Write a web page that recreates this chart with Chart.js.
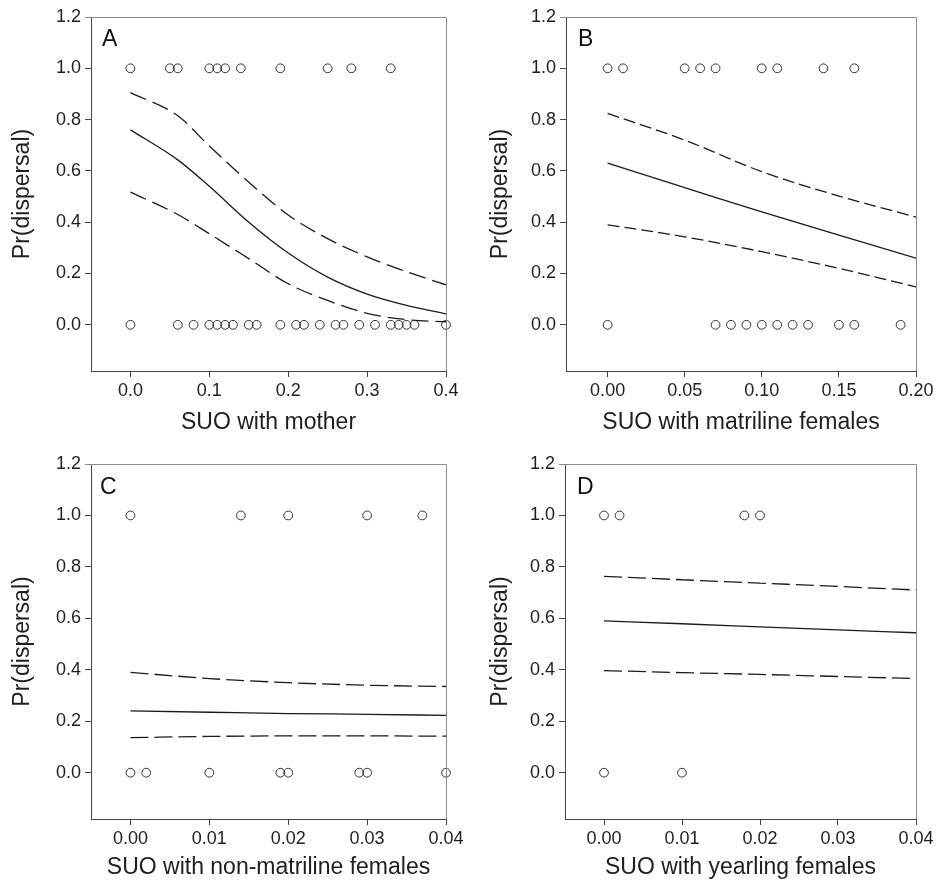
<!DOCTYPE html>
<html><head><meta charset="utf-8">
<script src="https://cdn.jsdelivr.net/npm/chart.js@4.4.1/dist/chart.umd.min.js"></script>
<style>
html,body{margin:0;padding:0;background:#fff;}
body{width:937px;height:881px;position:relative;overflow:hidden;}
canvas{position:absolute;display:block;}
</style></head><body>
<canvas id="cA" width="468" height="440" style="left:0;top:0"></canvas>
<canvas id="cB" width="467" height="440" style="left:470px;top:0"></canvas>
<canvas id="cC" width="468" height="441" style="left:0;top:440px"></canvas>
<canvas id="cD" width="467" height="441" style="left:470px;top:440px"></canvas>
<script>
// ---------- DATA ----------
const yTickValues = [0, 0.2, 0.4, 0.6, 0.8, 1.0, 1.2];

// Panel A: SUO with mother
const aTicks = [0, 0.1, 0.2, 0.3, 0.4];
const aDispersed = [0, 0.05, 0.06, 0.10, 0.11, 0.12, 0.14, 0.19, 0.25, 0.28, 0.33];
const aStayed = [0, 0.06, 0.08, 0.10, 0.11, 0.12, 0.13, 0.15, 0.16, 0.19, 0.21, 0.22, 0.24, 0.26, 0.27, 0.29, 0.31, 0.33, 0.34, 0.35, 0.36, 0.40];
const aFitX = [0, 0.06, 0.10, 0.15, 0.20, 0.25, 0.30, 0.35, 0.40];
const aFit = [0.76, 0.643, 0.54, 0.40, 0.28, 0.186, 0.12, 0.076, 0.043];
const aUpper = [0.905, 0.815, 0.697, 0.556, 0.428, 0.336, 0.265, 0.207, 0.156];
const aLower = [0.517, 0.43, 0.355, 0.258, 0.16, 0.095, 0.045, 0.02, 0.012];

// Panel B: SUO with matriline females
const bTicks = [0, 0.05, 0.10, 0.15, 0.20];
const bDispersed = [0, 0.01, 0.05, 0.06, 0.07, 0.10, 0.11, 0.14, 0.16];
const bStayed = [0, 0.07, 0.08, 0.09, 0.10, 0.11, 0.12, 0.13, 0.15, 0.16, 0.19];
const bFitX = [0, 0.05, 0.10, 0.15, 0.20];
const bFit = [0.63, 0.535, 0.44, 0.35, 0.26];
const bUpper = [0.824, 0.72, 0.597, 0.502, 0.42];
const bLower = [0.39, 0.343, 0.285, 0.22, 0.148];

// Panel C: SUO with non-matriline females
const cTicks = [0, 0.01, 0.02, 0.03, 0.04];
const cDispersed = [0, 0.014, 0.020, 0.030, 0.037];
const cStayed = [0, 0.002, 0.010, 0.019, 0.020, 0.029, 0.030, 0.040];
const cFitX = [0, 0.01, 0.02, 0.03, 0.04];
const cFit = [0.24, 0.235, 0.23, 0.227, 0.223];
const cUpper = [0.39, 0.366, 0.35, 0.34, 0.335];
const cLower = [0.136, 0.141, 0.143, 0.143, 0.142];

// Panel D: SUO with yearling females
const dTicks = [0, 0.01, 0.02, 0.03, 0.04];
const dDispersed = [0, 0.002, 0.018, 0.020];
const dStayed = [0, 0.010];
const dFitX = [0, 0.01, 0.02, 0.03, 0.04];
const dFit = [0.59, 0.579, 0.567, 0.555, 0.544];
const dUpper = [0.763, 0.75, 0.737, 0.724, 0.71];
const dLower = [0.397, 0.389, 0.382, 0.374, 0.366];

// ---------- RENDERING ----------
const FONT = '"Liberation Sans", Arial, Helvetica, sans-serif';
const TXT = '#1e1e1e';
const AX = '#444';

const framePlugin = {
  id: 'frame',
  afterDraw(chart, args, opts) {
    const {ctx, chartArea: {left, right, top, bottom}} = chart;
    ctx.save();
    ctx.strokeStyle = '#8c8c8c';
    ctx.lineWidth = 1;
    ctx.beginPath();
    ctx.moveTo(left - 6, Math.round(top) + 0.5);
    ctx.lineTo(Math.round(right) + 0.5, Math.round(top) + 0.5);
    ctx.lineTo(Math.round(right) + 0.5, bottom);
    ctx.stroke();
    ctx.fillStyle = '#111';
    ctx.font = '23px ' + FONT;
    ctx.textBaseline = 'alphabetic';
    ctx.textAlign = 'left';
    ctx.fillText(opts.letter, left + opts.lx, top + opts.ly);
    ctx.restore();
  }
};

function pts(xs, y) { return xs.map(x => ({x: x, y: y})); }
function curve(xs, ys) { return xs.map((x, i) => ({x: x, y: ys[i]})); }

function makePanel(id, P) {
  const lineBase = {type: 'line', pointRadius: 0, borderColor: '#1a1a1a', borderWidth: 1.3,
    cubicInterpolationMode: 'monotone', fill: false};
  const ptBase = {type: 'scatter', pointRadius: 4.4, pointHoverRadius: 4.4, pointBorderWidth: 1,
    borderColor: '#333', backgroundColor: 'rgba(255,255,255,0)', pointStyle: 'circle', clip: false};
  new Chart(document.getElementById(id), {
    data: {
      datasets: [
        Object.assign({}, ptBase, {data: pts(P.dispersed, 1)}),
        Object.assign({}, ptBase, {data: pts(P.stayed, 0)}),
        Object.assign({}, lineBase, {data: curve(P.fitX, P.fit)}),
        Object.assign({}, lineBase, {data: curve(P.fitX, P.upper), borderDash: P.dash}),
        Object.assign({}, lineBase, {data: curve(P.fitX, P.lower), borderDash: P.dash})
      ]
    },
    options: {
      responsive: false, animation: false, events: [],
      layout: {padding: {top: P.padTop, right: P.padRight, left: 0, bottom: 0}},
      plugins: {legend: {display: false}, tooltip: {enabled: false}, frame: {letter: P.letter, lx: P.lx, ly: P.ly}},
      scales: {
        x: {
          type: 'linear', min: P.xMin, max: P.xMax,
          afterBuildTicks: s => { s.ticks = P.xTicks.map(v => ({value: v})); },
          afterFit: s => { s.height = P.xh; },
          ticks: {font: {family: FONT, size: 18}, color: TXT, padding: 3, maxRotation: 0, autoSkip: false,
            callback: v => Number(v).toFixed(P.dec)},
          grid: {display: true, drawOnChartArea: false, drawTicks: true, tickLength: 6, color: AX, lineWidth: 1},
          border: {display: true, color: AX, width: 1},
          title: {display: true, text: P.xTitle, font: {family: FONT, size: 23}, color: TXT, padding: {top: 0, bottom: P.xtp}}
        },
        y: {
          type: 'linear', min: P.yMin, max: 1.2,
          afterBuildTicks: s => { s.ticks = yTickValues.map(v => ({value: v})); },
          afterFit: s => { s.width = P.yw; },
          ticks: {font: {family: FONT, size: 18}, color: TXT, padding: 4, autoSkip: false,
            callback: v => Number(v).toFixed(1)},
          grid: {display: true, drawOnChartArea: false, drawTicks: true, tickLength: 6, color: AX, lineWidth: 1},
          border: {display: true, color: AX, width: 1},
          title: {display: true, text: 'Pr(dispersal)', font: {family: FONT, size: 23}, color: TXT, padding: {top: P.ytp, bottom: 0}}
        }
      }
    },
    plugins: [framePlugin]
  });
}

makePanel('cA', {letter: 'A', lx: 11, ly: 29, xTitle: 'SUO with mother', xTicks: aTicks, dec: 1,
  xMin: -0.05, xMax: 0.4, yMin: -0.18, dispersed: aDispersed, stayed: aStayed,
  fitX: aFitX, fit: aFit, upper: aUpper, lower: aLower, dash: [17, 7],
  padTop: 17, padRight: 22, yw: 91, xh: 69, xtp: 4, ytp: 9});
makePanel('cB', {letter: 'B', lx: 12, ly: 29, xTitle: 'SUO with matriline females', xTicks: bTicks, dec: 2,
  xMin: -0.027, xMax: 0.2, yMin: -0.18, dispersed: bDispersed, stayed: bStayed,
  fitX: bFitX, fit: bFit, upper: bUpper, lower: bLower, dash: [12, 5],
  padTop: 17, padRight: 21, yw: 96, xh: 69, xtp: 4, ytp: 17});
makePanel('cC', {letter: 'C', lx: 9, ly: 30, xTitle: 'SUO with non-matriline females', xTicks: cTicks, dec: 2,
  xMin: -0.005, xMax: 0.04, yMin: -0.18, dispersed: cDispersed, stayed: cStayed,
  fitX: cFitX, fit: cFit, upper: cUpper, lower: cLower, dash: [18, 6],
  padTop: 24, padRight: 22, yw: 91, xh: 62, xtp: 0, ytp: 9});
makePanel('cD', {letter: 'D', lx: 12, ly: 30, xTitle: 'SUO with yearling females', xTicks: dTicks, dec: 2,
  xMin: -0.005, xMax: 0.04, yMin: -0.18, dispersed: dDispersed, stayed: dStayed,
  fitX: dFitX, fit: dFit, upper: dUpper, lower: dLower, dash: [18, 6],
  padTop: 24, padRight: 21, yw: 95, xh: 62, xtp: 0, ytp: 17});
</script>
</body></html>
